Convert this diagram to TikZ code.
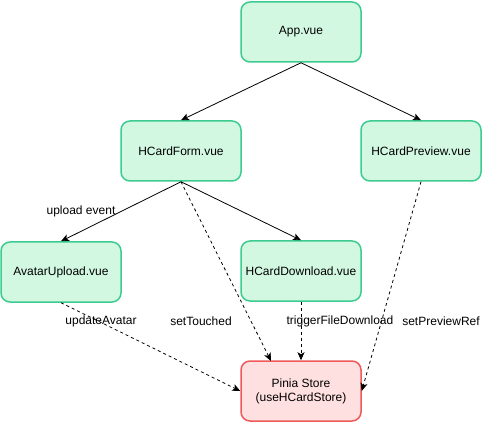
\documentclass[tikz,border=0pt]{standalone}
\usepackage{fontspec}
\setmainfont{Liberation Sans}
\usetikzlibrary{arrows.meta}
\definecolor{gfill}{HTML}{D3F8E2}
\definecolor{gdraw}{HTML}{3DCB8F}
\definecolor{rfill}{HTML}{FFE0E0}
\definecolor{rdraw}{HTML}{EE5A5A}
\tikzset{
  comp/.style={draw=gdraw, fill=gfill, line width=1.5pt, rounded corners=9pt,
    minimum width=120pt, minimum height=60pt, inner sep=0pt, align=center,
    font=\fontsize{12}{14}\selectfont},
  store/.style={comp, draw=rdraw, fill=rfill},
  link/.style={line width=0.8pt, -{Stealth[length=8pt,width=7pt,inset=2pt]}},
  dlink/.style={link, dash pattern=on 3pt off 3pt},
  lbl/.style={font=\fontsize{12}{14}\selectfont, inner sep=0pt}
}
\begin{document}
\begin{tikzpicture}[x=1pt,y=-1pt]
\useasboundingbox (0,0) rectangle (482,422);
\node[comp] (app) at (301,32) {App.vue};
\node[comp] (form) at (181,151) {HCardForm.vue};
\node[comp] (prev) at (421,151) {HCardPreview.vue};
\node[comp] (avatar) at (61,272) {AvatarUpload.vue};
\node[comp] (down) at (301,271) {HCardDownload.vue};
\node[store] (store) at (301,391) {Pinia Store\\(useHCardStore)};
\coordinate (storeTL) at (271,361);

\draw[link] (app.south) -- (form.north);
\draw[link] (app.south) -- (prev.north);
\draw[link] (form.south) -- (avatar.north);
\draw[link] (form.south) -- (down.north);
\draw[dlink] (form.south) -- (storeTL);
\draw[dlink] (down.south) -- (store.north);
\draw[dlink] (avatar.south) -- (store.west);
\draw[dlink] (prev.south) -- (store.east);

\node[lbl] at (81,211) {upload event};
\node[lbl] at (101,321) {updateAvatar};
\node[lbl] at (201,321) {setTouched};
\node[lbl] at (340,321) {triggerFileDownload};
\node[lbl] at (441,321) {setPreviewRef};
\end{tikzpicture}
\end{document}
